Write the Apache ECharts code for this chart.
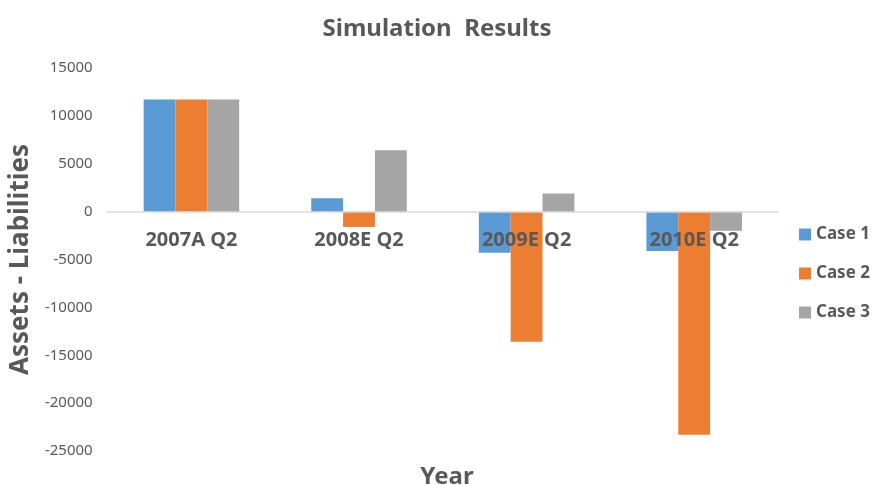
<!DOCTYPE html>
<html>
<head>
<meta charset="utf-8">
<script src="https://cdn.jsdelivr.net/npm/echarts@6/dist/echarts.min.js"></script>
<style>
  html, body { margin: 0; padding: 0; background: #fff; }
  #chart { width: 874px; height: 485px; }
</style>
</head>
<body>
<div id="chart"></div>
<script>
// values
const categories = ['2007A Q2', '2008E Q2', '2009E Q2', '2010E Q2']
const case1 = [11700, 1400, -4300, -4100]
const case2 = [11700, -1600, -13600, -23300]
const case3 = [11700, 6400, 1900, -2000]
const seriesNames = ['Case 1', 'Case 2', 'Case 3']

const textColor = '#595959'
const font = 'Noto Sans'

const chart = echarts.init(document.getElementById('chart'))

const option = {
  backgroundColor: '#fff',
  color: ['#5b9bd5', '#ed7d31', '#a5a5a5'],
  animation: false,
  title: [{
    text: 'Simulation  Results',
    left: 'center',
    top: 12,
    textStyle: { color: textColor, fontSize: 24, fontWeight: 'bold', fontFamily: font },
  }, {
    // x axis name sits at the bottom, the axis itself runs along zero
    text: 'Year',
    left: 442,
    textAlign: 'center',
    top: 460,
    textStyle: { color: textColor, fontSize: 24, fontWeight: 'bold', fontFamily: font },
  }],
  legend: {
    orient: 'vertical',
    left: 794,
    top: 221,
    itemWidth: 12,
    itemHeight: 12,
    itemGap: 22,
    icon: 'rect',
    data: seriesNames,
    textStyle: { color: textColor, fontSize: 17, fontWeight: 'bold', fontFamily: font },
  },
  grid: {
    left: 107,
    right: 96,
    top: 68,
    bottom: 34,
  },
  xAxis: {
    type: 'category',
    data: categories,
    z: 10,
    position: 'bottom',
    offset: -239,
    axisLine: { onZero: false, lineStyle: { color: '#d9d9d9', width: 1.5 } },
    axisTick: { show: false },
    axisLabel: {
      color: textColor,
      fontSize: 20,
      fontWeight: 'bold',
      fontFamily: font,
      margin: 18,
    },
  },
  yAxis: {
    type: 'value',
    min: -25000,
    max: 15000,
    interval: 5000,
    name: 'Assets - Liabilities',
    nameLocation: 'middle',
    nameGap: 62,
    nameTextStyle: { color: textColor, fontSize: 26, fontWeight: 'bold', fontFamily: font },
    axisLine: { show: false },
    axisTick: { show: false },
    splitLine: { show: false },
    axisLabel: {
      color: textColor,
      fontSize: 15,
      fontFamily: font,
      margin: 15,
      formatter: (v) => String(v),
    },
  },
  series: [
    { name: seriesNames[0], type: 'bar', data: case1, barGap: '0%', barCategoryGap: '43%' },
    { name: seriesNames[1], type: 'bar', data: case2, barGap: '0%', barCategoryGap: '43%' },
    { name: seriesNames[2], type: 'bar', data: case3, barGap: '0%', barCategoryGap: '43%' },
  ],
}

chart.setOption(option)
</script>
</body>
</html>
